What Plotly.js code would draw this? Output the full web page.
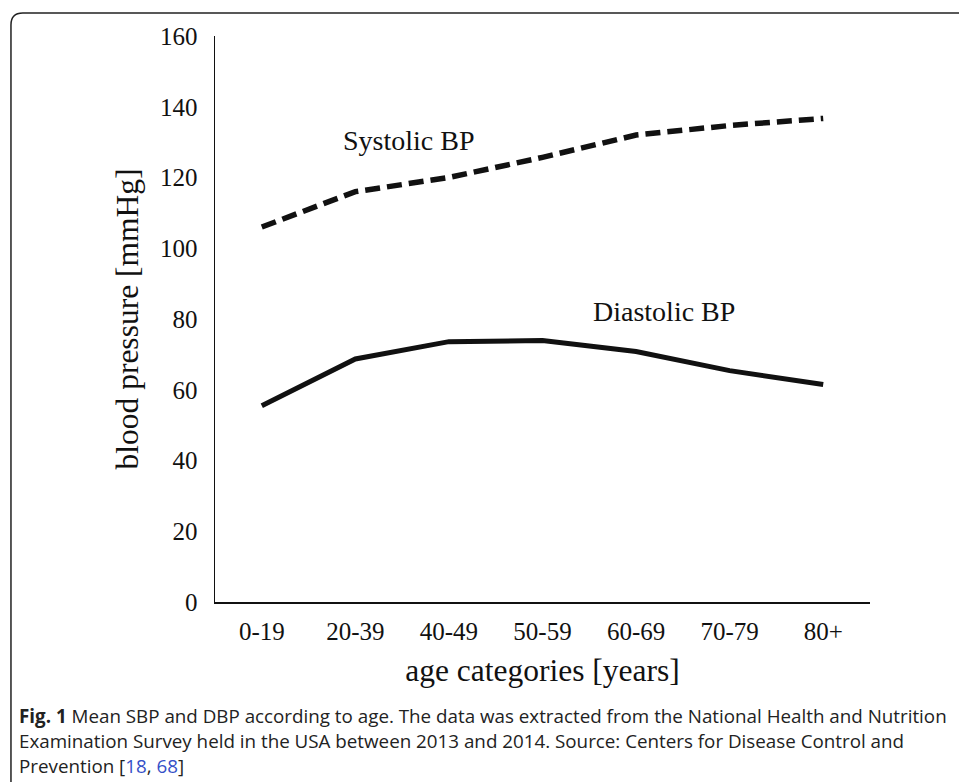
<!DOCTYPE html>
<html><head><meta charset="utf-8">
<script src="https://cdn.plot.ly/plotly-3.0.1.min.js"></script>
<style>html,body{margin:0;padding:0;background:#fff;} #chart{width:959px;height:782px;}</style>
</head><body><div id="chart"></div>
<script>
// ---- data ----
const categories = ['0-19', '20-39', '40-49', '50-59', '60-69', '70-79', '80+'];
const systolic = [106, 116, 120, 125.7, 132, 134.7, 136.7];
const diastolic = [55.5, 68.7, 73.6, 73.9, 70.8, 65.4, 61.5];
const yTickValues = [0, 20, 40, 60, 80, 100, 120, 140, 160];
const seriesLabels = ['Systolic BP', 'Diastolic BP'];
const xTitle = 'age categories [years]';
const yTitle = 'blood pressure [mmHg]';
const captionLines = [
  '<b>Fig. 1</b> Mean SBP and DBP according to age. The data was extracted from the National Health and Nutrition',
  'Examination Survey held in the USA between 2013 and 2014. Source: Centers for Disease Control and',
  'Prevention [<span style="color:#3550c8">18</span>, <span style="color:#3550c8">68</span>]'
];

const serif = 'Liberation Serif, Times New Roman, serif';
const capFont = 'Open Sans, sans-serif';

const traces = [
  {x: categories, y: systolic, name: seriesLabels[0], type: 'scatter', mode: 'lines',
   line: {color: '#111', width: 5.5, dash: '15px,7px'}},
  {x: categories, y: diastolic, name: seriesLabels[1], type: 'scatter', mode: 'lines',
   line: {color: '#111', width: 5}}
];

// border geometry (paper coordinates)
const xL = -0.3115, yT = 1.0406, xR = 1.2, yB = -0.4, rx = 0.018, ry = 0.021;

const annotations = [
  {text: seriesLabels[0], xref: 'paper', yref: 'paper', x: 0.2947, y: 0.8145,
   xanchor: 'center', yanchor: 'middle',
   showarrow: false, font: {family: serif, size: 28, color: '#111'}},
  {text: seriesLabels[1], xref: 'paper', yref: 'paper', x: 0.6855, y: 0.514,
   xanchor: 'center', yanchor: 'middle',
   showarrow: false, font: {family: serif, size: 28, color: '#111'}}
];
const capY = [-0.2014, -0.2456, -0.2898];
captionLines.forEach((t, i) => annotations.push({
  text: t, xref: 'paper', yref: 'paper', x: -0.3023, y: capY[i], xanchor: 'left', yanchor: 'middle',
  align: 'left', showarrow: false, font: {family: capFont, size: 18.8, color: '#222'}
}));

const layout = {
  width: 959, height: 782,
  margin: {l: 215, r: 89, t: 36, b: 180},
  paper_bgcolor: '#fff', plot_bgcolor: '#fff',
  showlegend: false,
  xaxis: {
    type: 'category', range: [-0.5, 6.5], showgrid: false, zeroline: false,
    showline: true, linecolor: '#111', linewidth: 1.5,
    ticks: 'outside', ticklen: 6, tickcolor: 'rgba(0,0,0,0)',
    tickfont: {family: serif, size: 25, color: '#111'},
    title: {text: xTitle, font: {family: serif, size: 31.5, color: '#111'}, standoff: 15},
    automargin: false, fixedrange: true
  },
  yaxis: {
    range: [0, 160], tickvals: yTickValues, showgrid: false, zeroline: false,
    showline: true, linecolor: '#111', linewidth: 1.5,
    ticks: 'outside', ticklen: 11, tickcolor: 'rgba(0,0,0,0)',
    tickfont: {family: serif, size: 25, color: '#111'},
    title: {text: yTitle, font: {family: serif, size: 31.5, color: '#111'}, standoff: 12},
    automargin: false, fixedrange: true
  },
  annotations: annotations,
  shapes: [{
    type: 'path', xref: 'paper', yref: 'paper', layer: 'above',
    path: `M ${xL},${yB} L ${xL},${yT - ry} Q ${xL},${yT} ${xL + rx},${yT} L ${xR},${yT}`,
    line: {color: '#222', width: 1.5}
  }]
};

Plotly.newPlot('chart', traces, layout, {displayModeBar: false, staticPlot: true});
</script>
</body></html>
